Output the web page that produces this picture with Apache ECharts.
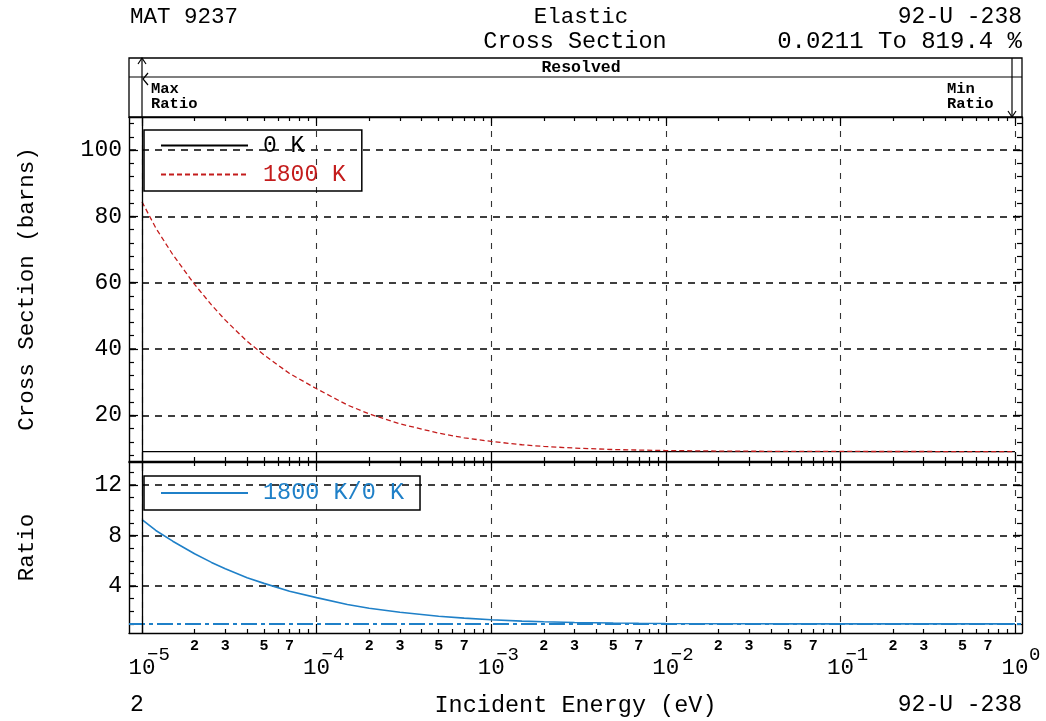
<!DOCTYPE html>
<html><head><meta charset="utf-8">
<script src="https://cdn.jsdelivr.net/npm/echarts@6/dist/echarts.min.js"></script>
<style>html,body{margin:0;padding:0;background:#fff}#c{width:1046px;height:721px}</style>
</head><body><div id="c"></div>
<script>
// ---- data ----
const energies = [1e-5, 1.2e-5, 1.5e-5, 2e-5, 2.5e-5, 3e-5, 4e-5, 5e-5, 7e-5, 1e-4, 1.5e-4, 2e-4, 3e-4, 5e-4, 7e-4, 1e-3, 1.5e-3, 2e-3, 3e-3, 5e-3, 7e-3, 1e-2, 2e-2, 3e-2, 5e-2, 1e-1, 3e-1, 1];
const xs0K = [9.05, 9.05, 9.05, 9.05, 9.05, 9.05, 9.05, 9.05, 9.05, 9.05, 9.05, 9.05, 9.05, 9.05, 9.05, 9.05, 9.05, 9.05, 9.05, 9.05, 9.05, 9.05, 9.05, 9.05, 9.05, 9.05, 9.05, 9.05];
const xs1800K = [84.4, 76.5, 68.5, 59.5, 53.3, 48.7, 42.3, 38.2, 32.6, 28.0, 23.1, 20.4, 17.4, 14.6, 13.2, 12.1, 11.1, 10.6, 10.1, 9.66, 9.5, 9.36, 9.2, 9.15, 9.1, 9.08, 9.06, 9.05];
const ratio1800 = [9.25, 8.4, 7.55, 6.55, 5.87, 5.37, 4.66, 4.21, 3.59, 3.08, 2.54, 2.24, 1.92, 1.61, 1.46, 1.33, 1.22, 1.17, 1.11, 1.07, 1.05, 1.034, 1.017, 1.011, 1.006, 1.003, 1.001, 1.0];
const majorDecades = [-5, -4, -3, -2, -1, 0];
const minorMultipliers = [2, 3, 4, 5, 6, 7, 8, 9];
const minorLabelMultipliers = [2, 3, 5, 7];
const topYLabels = [20, 40, 60, 80, 100];
const bottomYLabels = [4, 8, 12];
const seriesNames = ['0 K', '1800 K', '1800 K/0 K'];

// ---- layout ----
const MONO = 'Liberation Mono';
const L = 129, R = 1022, T1 = 117, B1 = 461, T2 = 462, B2 = 633;
const DEC = (1015 - 142) / 5;
const X_MIN = -5 - (142 - L) / DEC, X_MAX = (R - 1015) / DEC;
const TOP_Y = [6.2, 110], BOT_Y = [0.28, 13.82];
const RED = '#c41c1c', BLUE = '#1f80c8';

const minorX = [];
for (let d = -5; d < 0; d++) for (const m of minorMultipliers) minorX.push(d + Math.log10(m));
const minorLabelX = [];
for (let d = -5; d < 0; d++) for (const m of minorLabelMultipliers) minorLabelX.push(d + Math.log10(m));
const topYMinor = []; for (let v = 8; v <= 108; v += 4) topYMinor.push(v);
const botYMinor = []; for (let v = 1; v <= 13; v += 1) botYMinor.push(v);

const off = {show: false};
function xAx(g, o) {
  return Object.assign({gridIndex: g, type: 'value', min: X_MIN, max: X_MAX, position: 'bottom',
    axisLine: {show: false, onZero: false}, axisTick: off, axisLabel: off, splitLine: off}, o);
}
function yAx(g, range, o) {
  return Object.assign({gridIndex: g, type: 'value', min: range[0], max: range[1], position: 'left',
    axisLine: {show: false, onZero: false}, axisTick: off, axisLabel: off, splitLine: off}, o);
}
const axLine = {show: true, onZero: false, lineStyle: {color: '#000', width: 1.4}};
const tick = (vals, len) => ({show: true, inside: true, length: len, customValues: vals, lineStyle: {color: '#000', width: 1.2}});
const vSplit = {show: true, lineStyle: {color: '#333', width: 1.1, type: [6, 8]}};
const hSplit = {show: true, lineStyle: {color: '#000', width: 1.7, type: [7, 6]}};

const xAxes = [];
for (let g = 0; g < 2; g++) {
  xAxes.push(xAx(g, {axisLine: axLine, axisTick: tick(majorDecades, 9), splitLine: vSplit,
    axisLabel: g === 1 ? {show: true, customValues: majorDecades, margin: 24, fontFamily: MONO, fontSize: 22.5, color: '#000',
      formatter: () => '10'} : off,
    name: g === 1 ? 'Incident Energy (eV)' : '', nameLocation: 'middle', nameGap: 61,
    nameTextStyle: {fontFamily: MONO, fontSize: 23.5, color: '#000'}}));
  xAxes.push(xAx(g, {axisTick: tick(minorX, 4),
    axisLabel: g === 1 ? {show: true, customValues: minorLabelX, margin: 6, fontFamily: MONO, fontSize: 15, fontWeight: 'bold', color: '#000',
      formatter: v => String(Math.round(Math.pow(10, v - Math.floor(v + 1e-9))))} : off}));
  xAxes.push(xAx(g, {position: 'top', axisLine: axLine, axisTick: tick(minorX, 4)}));
  xAxes.push(xAx(g, {position: 'top', axisTick: tick(majorDecades, 9)}));
}
// exponent labels of the decades (superscripts)
xAxes.push(xAx(1, {axisLabel: {show: true, customValues: majorDecades, margin: 12, align: 'left',
  formatter: v => { const d = Math.round(v); return d === 0 ? '{g|}{s|0}' : '{s|\u2212' + (-d) + '}'; },
  rich: {g: {width: 9}, s: {fontFamily: MONO, fontSize: 19, color: '#000', padding: [0, 0, 0, 5]}}}}));

const yAxes = [];
[[TOP_Y, topYLabels, topYMinor, 'Cross Section (barns)'], [BOT_Y, bottomYLabels, botYMinor, 'Ratio']].forEach((c, g) => {
  yAxes.push(yAx(g, c[0], {axisLine: axLine, axisTick: tick(c[1], 9), splitLine: hSplit,
    axisLabel: {show: true, customValues: c[1], margin: 7, fontFamily: MONO, fontSize: 23, color: '#000'},
    name: c[3], nameLocation: 'middle', nameGap: 90, nameTextStyle: {fontFamily: MONO, fontSize: 22.5, color: '#000'}}));
  yAxes.push(yAx(g, c[0], {axisTick: tick(c[2], 5)}));
  yAxes.push(yAx(g, c[0], {position: 'right', axisLine: axLine, axisTick: tick(c[1], 9)}));
  yAxes.push(yAx(g, c[0], {position: 'right', axisTick: tick(c[2], 5)}));
});

const pts = arr => energies.map((e, i) => [Math.log10(e), arr[i]]);
const mlBase = {symbol: ['none', 'none'], silent: true, label: {show: false}, animation: false};

const txt = (x, y, text, size, align, extra) => ({type: 'text', x: x, y: y, silent: true,
  style: Object.assign({text: text, fontFamily: MONO, fontSize: size, fill: '#000', textAlign: align, textVerticalAlign: 'middle'}, extra || {})});
const ln = (pts, w) => ({type: 'polyline', silent: true, shape: {points: pts}, style: {stroke: '#000', lineWidth: w || 1.2, fill: null}});
const noSym = {color: 'rgba(0,0,0,0)', borderColor: 'rgba(0,0,0,0)', borderWidth: 0};

const option = {
  animation: false,
  backgroundColor: '#fff',
  grid: [
    {left: L, right: 1046 - R, top: T1, height: B1 - T1},
    {left: L, right: 1046 - R, top: T2, height: B2 - T2}
  ],
  xAxis: xAxes,
  yAxis: yAxes,
  legend: [
    {left: 144, top: 130, orient: 'vertical', itemWidth: 87, itemHeight: 20, itemGap: 6,
      padding: [4, 16, 5, 16], borderColor: '#000', borderWidth: 1.5, borderRadius: 0, itemStyle: noSym,
      textStyle: {fontFamily: MONO, fontSize: 23, padding: [0, 0, 0, 10]},
      data: [{name: seriesNames[0], textStyle: {color: '#000'}}, {name: seriesNames[1], textStyle: {color: RED}}]},
    {left: 144, top: 476, orient: 'vertical', itemWidth: 87, itemHeight: 20,
      padding: [5, 16, 5, 16], borderColor: '#000', borderWidth: 1.5, borderRadius: 0, itemStyle: noSym,
      textStyle: {fontFamily: MONO, fontSize: 23.5, padding: [0, 0, 0, 10]},
      data: [{name: seriesNames[2], textStyle: {color: BLUE}}]}
  ],
  series: [
    {name: seriesNames[0], type: 'line', xAxisIndex: 0, yAxisIndex: 0, data: pts(xs0K), symbol: 'none',
      lineStyle: {color: '#000', width: 1.2}, itemStyle: {color: '#000'},
      markLine: Object.assign({data: [{xAxis: -5}], lineStyle: {color: '#000', width: 1.3, type: 'solid'}}, mlBase)},
    {name: seriesNames[1], type: 'line', xAxisIndex: 0, yAxisIndex: 0, data: pts(xs1800K), symbol: 'none',
      lineStyle: {color: RED, width: 1.3, type: [5, 3]}, itemStyle: {color: RED}},
    {name: seriesNames[2], type: 'line', xAxisIndex: 4, yAxisIndex: 4, data: pts(ratio1800), symbol: 'none',
      lineStyle: {color: BLUE, width: 1.6}, itemStyle: {color: BLUE},
      markLine: Object.assign({data: [
        {yAxis: 1, lineStyle: {color: BLUE, width: 1.8, type: [16, 4, 4, 4]}},
        {xAxis: -5, lineStyle: {color: '#000', width: 1.3, type: 'solid'}}
      ]}, mlBase)}
  ],
  graphic: [
    txt(130, 17, 'MAT 9237', 22.5, 'left'),
    txt(581, 17, 'Elastic', 22.5, 'center'),
    txt(575, 42, 'Cross Section', 23.5, 'center'),
    txt(R, 17, '92-U -238', 23, 'right'),
    txt(R, 42, '0.0211 To 819.4 %', 24, 'right'),
    {type: 'rect', silent: true, shape: {x: L, y: 58, width: R - L, height: T1 - 58}, style: {fill: null, stroke: '#000', lineWidth: 1.3}},
    ln([[L, 77], [R, 77]]),
    txt(581, 68, 'Resolved', 16.5, 'center', {fontWeight: 'bold'}),
    ln([[142, 58], [142, T1]]),
    ln([[138, 64], [142, 58], [146, 64]]),
    ln([[148, 73], [143, 79], [148, 85]]),
    txt(151, 89, 'Max', 15.5, 'left', {fontWeight: 'bold'}),
    txt(151, 104, 'Ratio', 15.5, 'left', {fontWeight: 'bold'}),
    ln([[1012, 58], [1012, T1]]),
    ln([[1008, 111], [1012, 117], [1016, 111]]),
    txt(947, 89, 'Min', 15.5, 'left', {fontWeight: 'bold'}),
    txt(947, 104, 'Ratio', 15.5, 'left', {fontWeight: 'bold'}),
    txt(130, 705, '2', 23, 'left'),
    txt(R, 705, '92-U -238', 23, 'right')
  ]
};
echarts.init(document.getElementById('c')).setOption(option);
</script>
</body></html>
